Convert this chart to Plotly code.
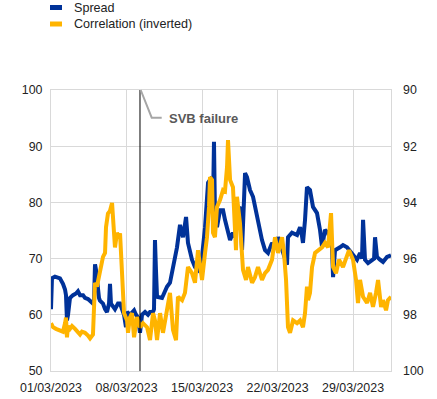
import pandas as pd
import plotly.graph_objects as go

# ---- data (days since 01/03/2023, values) ----
spread_days = [0.00, 0.09, 0.37, 0.65, 0.83, 1.11, 1.30, 1.39, 1.48, 1.58, 1.76, 2.04, 2.32, 2.50, 2.69,
               2.97, 3.15, 3.43, 3.62, 3.89, 3.99, 4.08, 4.17, 4.26, 4.45, 4.54, 4.82, 5.01, 5.19, 5.38,
               5.47, 5.56, 5.75, 5.93, 6.21, 6.40, 6.58, 6.77, 6.95, 7.05, 7.32, 7.51, 7.70, 7.88, 8.07,
               8.25, 8.44, 8.72, 8.99, 9.18, 9.46, 9.55, 9.64, 9.73, 9.83, 10.29, 10.75, 11.03, 11.31,
               11.68, 11.96, 12.24, 12.52, 12.70, 13.07, 13.35, 13.63, 14.00, 14.28, 14.46, 14.56, 14.74,
               14.93, 15.02, 15.11, 15.20, 15.39, 15.67, 15.95, 16.13, 16.32, 16.60, 16.87, 17.06, 17.24,
               17.52, 17.71, 17.89, 17.99, 18.17, 18.45, 18.73, 18.91, 19.19, 19.56, 19.84, 20.12, 20.49,
               20.77, 21.05, 21.42, 21.69, 21.88, 21.97, 22.34, 22.81, 23.09, 23.27, 23.36, 23.55, 23.73,
               24.01, 24.29, 24.66, 24.94, 25.13, 25.40, 25.68, 26.05, 26.15, 26.33, 26.79, 27.07, 27.44,
               27.91, 28.37, 28.65, 28.83, 28.93, 29.02, 29.11, 29.39, 29.76, 29.95, 30.04, 30.13, 30.22,
               30.50, 30.78, 31.15, 31.52]
spread = [61.0, 66.5, 66.8, 66.7, 66.5, 65.5, 64.5, 63.5, 59.0, 60.0, 63.0, 63.5, 63.8, 64.2, 63.5,
          63.5, 63.0, 62.8, 62.5, 62.0, 62.5, 69.0, 68.0, 66.0, 63.0, 62.5, 62.0, 61.0, 60.5, 62.0,
          65.5, 62.0, 61.5, 61.0, 62.0, 62.0, 61.0, 60.0, 57.8, 60.5, 60.0, 60.5, 60.8, 60.0, 59.5,
          56.8, 60.0, 60.5, 60.0, 60.5, 60.5, 61.0, 73.3, 68.0, 63.2, 63.0, 65.0, 65.7, 68.5,
          72.0, 76.0, 73.8, 77.4, 72.8, 69.8, 68.5, 68.0, 70.3, 75.6, 80.0, 83.5, 84.0,
          84.5, 80.0, 90.8, 78.0, 75.6, 78.6, 78.6, 76.9, 75.1, 73.3, 74.6, 73.8, 78.6,
          79.2, 71.5, 80.0, 85.2, 84.5, 82.2, 81.0, 79.2, 76.9, 73.3, 71.5, 71.0, 72.8,
          72.0, 73.8, 71.5, 70.3, 68.9, 73.8, 74.6, 74.2, 75.6, 74.0, 72.8, 76.9, 82.7,
          82.2, 79.2, 78.1, 75.1, 72.0, 75.1, 74.6, 72.0, 66.7, 71.5, 72.0, 72.4, 72.0,
          71.0, 69.8, 71.0, 70.0, 76.9, 72.0, 69.8, 69.2, 69.8, 70.0, 73.8, 71.0, 70.3,
          69.8, 69.4, 70.3, 70.6]

corr_days = [0.00, 0.19, 0.46, 0.83, 1.11, 1.30, 1.39, 1.48, 1.58, 1.76, 1.95, 2.23, 2.50, 2.69, 2.87,
             3.15, 3.43, 3.62, 3.89, 4.08, 4.26, 4.45, 4.54, 4.82, 5.01, 5.10, 5.28, 5.47, 5.66, 5.75,
             5.93, 6.12, 6.30, 6.40, 6.58, 6.77, 7.05, 7.14, 7.32, 7.51, 7.70, 7.97, 8.25, 8.53, 8.90,
             9.18, 9.46, 9.64, 9.83, 10.11, 10.38, 10.57, 10.75, 11.03, 11.31, 11.59, 11.77, 12.15,
             12.42, 12.70, 13.07, 13.35, 13.63, 14.00, 14.28, 14.46, 14.65, 14.74, 14.93, 15.02,
             15.20, 15.39, 15.67, 15.95, 16.13, 16.32, 16.41, 16.60, 16.87, 17.06, 17.15, 17.24, 17.43,
             17.52, 17.80, 18.08, 18.26, 18.64, 18.91, 19.19, 19.56, 19.84, 20.12, 20.49, 20.77, 21.05,
             21.42, 21.60, 21.79, 21.97, 22.16, 22.44, 22.81, 23.09, 23.36, 23.55, 23.73, 23.83, 24.01,
             24.20, 24.48, 24.75, 25.13, 25.40, 25.68, 25.96, 26.15, 26.42, 26.70, 27.07, 27.35, 27.63,
             28.00, 28.28, 28.46, 28.65, 28.93, 29.30, 29.58, 29.85, 30.13, 30.32, 30.60, 30.78, 31.06,
             31.24, 31.52]
corr = [98.30, 98.44, 98.50, 98.54, 98.60, 98.30, 98.10, 98.80, 98.40, 98.50, 98.40, 98.50, 98.60, 98.70, 98.60,
        98.64, 98.74, 98.84, 98.70, 96.86, 97.00, 96.60, 96.40, 95.94, 95.80, 94.88, 94.40, 94.30, 94.02, 94.74,
        95.60, 95.08, 95.24, 95.10, 96.76, 97.94, 98.20, 98.64, 98.10, 97.94, 98.80, 98.08, 98.44, 98.30, 98.44,
        98.90, 97.94, 98.20, 98.90, 97.94, 98.64, 98.20, 97.94, 97.22, 98.54, 98.90, 97.36, 97.48,
        97.22, 96.30, 96.52, 96.86, 95.70, 96.76, 95.80, 95.24, 94.16, 93.10, 93.20, 95.08,
        95.24, 94.16, 93.92, 93.56, 93.60, 92.74, 91.78, 93.20, 93.46, 95.08, 95.70, 93.80, 94.28,
        94.74, 96.40, 96.76, 96.30, 96.86, 96.66, 96.30, 96.76, 96.52, 96.40, 96.04, 95.24, 95.80,
        95.24, 95.80, 96.76, 98.44, 98.64, 98.20, 98.30, 98.20, 98.44, 97.94, 97.00, 97.48, 97.22,
        96.30, 95.80, 95.70, 95.60, 95.44, 95.60, 94.38, 96.30, 96.52, 96.04, 96.30, 95.94, 95.70,
        96.04, 96.76, 97.58, 96.76, 97.36, 97.58, 97.22, 97.72, 97.22, 96.76, 97.72, 97.48, 97.84,
        97.48, 97.36]

start_date = "2023-03-01"
end_days = 31.52
svb_days = 8.25
tick_dates = ["2023-03-01", "2023-03-08", "2023-03-15", "2023-03-22", "2023-03-29"]
tick_labels = ["01/03/2023", "08/03/2023", "15/03/2023", "22/03/2023", "29/03/2023"]
left_ticks = [50, 60, 70, 80, 90, 100]
right_ticks = [90, 92, 94, 96, 98, 100]

# ---- styling ----
BLUE = "#003299"
ORANGE = "#FFB400"
GRID = "#d9d9d9"
FONT = "Liberation Sans, Arial, sans-serif"

t0 = pd.Timestamp(start_date)
sx = t0 + pd.to_timedelta(spread_days, unit="D")
cx = t0 + pd.to_timedelta(corr_days, unit="D")
x_end = t0 + pd.to_timedelta(end_days, unit="D")
svb_x = t0 + pd.to_timedelta(svb_days, unit="D")

fig = go.Figure()
fig.add_trace(go.Scatter(x=cx, y=corr, mode="lines", name="Correlation (inverted)",
                         line=dict(color=ORANGE, width=4), yaxis="y2", showlegend=False))
fig.add_trace(go.Scatter(x=sx, y=spread, mode="lines", name="Spread",
                         line=dict(color=BLUE, width=4), showlegend=False))

W, H = 437, 399
L, R, T, B = 51, 46, 90, 28
pw, ph = W - L - R, H - T - B

def px(xp):
    return (xp - L) / pw

def py(yp):
    return (H - B - yp) / ph

shapes = [
    dict(type="line", xref="x", yref="paper", x0=svb_x, x1=svb_x, y0=0, y1=1,
         line=dict(color="black", width=1)),
    dict(type="path", xref="paper", yref="paper",
         path=f"M {px(140.7)},{py(90)} L {px(151.7)},{py(117.7)} L {px(161.7)},{py(117.7)}",
         line=dict(color="#a6a6a6", width=2)),
    dict(type="rect", xref="paper", yref="paper", x0=px(50), x1=px(62), y0=py(5), y1=py(10),
         fillcolor=BLUE, line=dict(width=0)),
    dict(type="rect", xref="paper", yref="paper", x0=px(50), x1=px(62), y0=py(21.5), y1=py(26.5),
         fillcolor=ORANGE, line=dict(width=0)),
]

annotations = [
    dict(xref="paper", yref="paper", x=px(167), y=py(118), xanchor="left", yanchor="middle",
         text="<b>SVB failure</b>", showarrow=False, font=dict(size=13, color="#595959", family=FONT)),
    dict(xref="paper", yref="paper", x=px(72), y=py(7.5), xanchor="left", yanchor="middle",
         text="Spread", showarrow=False, font=dict(size=12.6, color="#222222", family=FONT)),
    dict(xref="paper", yref="paper", x=px(72), y=py(24), xanchor="left", yanchor="middle",
         text="Correlation (inverted)", showarrow=False, font=dict(size=12.6, color="#222222", family=FONT)),
]

fig.update_layout(
    width=W, height=H,
    margin=dict(l=L, r=R, t=T, b=B, pad=0, autoexpand=False),
    paper_bgcolor="white", plot_bgcolor="white",
    font=dict(family=FONT, size=12.4, color="#222222"),
    shapes=shapes, annotations=annotations,
    xaxis=dict(range=[t0, x_end], tickvals=pd.to_datetime(tick_dates), ticktext=tick_labels,
               showgrid=True, gridcolor=GRID, gridwidth=1, showline=True, linecolor=GRID,
               linewidth=1, mirror=True, ticks="", zeroline=False, tickangle=0, automargin=False,
               ticklabelstandoff=5),
    yaxis=dict(range=[50, 100], tickvals=left_ticks, showgrid=True, gridcolor=GRID, gridwidth=1,
               showline=True, linecolor=GRID, mirror=True, ticks="", zeroline=False,
               ticklabelstandoff=5, automargin=False),
    yaxis2=dict(range=[100, 90], tickvals=right_ticks, overlaying="y", side="right",
                showgrid=False, showline=False, ticks="", zeroline=False, ticklabelstandoff=11,
                automargin=False),
    showlegend=False,
)

fig.write_html("out.html", config={"displayModeBar": False},
               post_script="document.body.style.margin='0px';")
